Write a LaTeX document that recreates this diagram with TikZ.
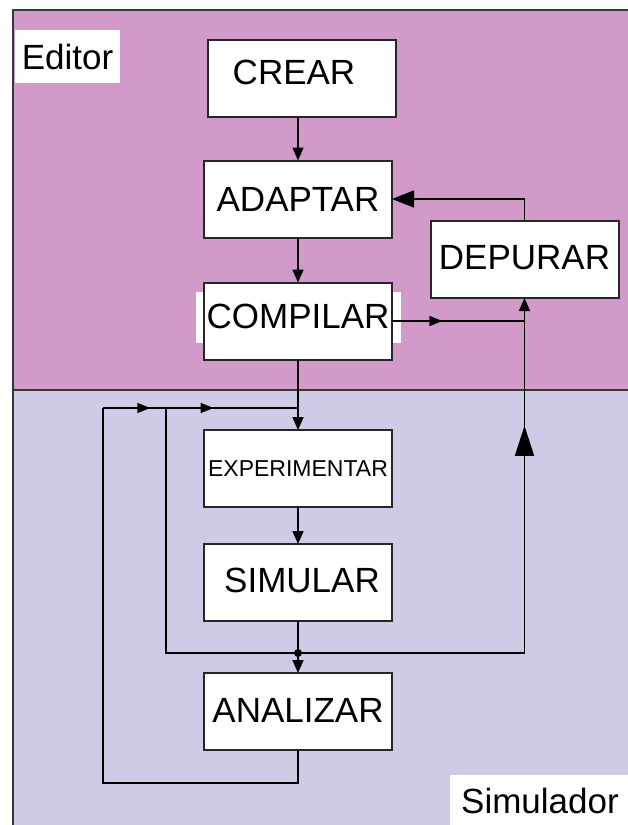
\documentclass[tikz,border=0pt]{standalone}
\usepackage{fontspec}
\setmainfont{Liberation Sans}
\usetikzlibrary{arrows.meta,decorations.markings}
\definecolor{edpink}{RGB}{209,154,200}
\definecolor{simlav}{RGB}{207,203,230}
\definecolor{framegray}{RGB}{55,55,55}
\begin{document}
\begin{tikzpicture}[x=1pt,y=-1pt,
  box/.style={draw=black!85, line width=2pt, fill=white, minimum width=188pt, minimum height=77pt,
    inner sep=0pt, outer sep=0pt, font=\fontsize{35}{40}\selectfont},
  lbl/.style={fill=white, inner sep=0pt, font=\fontsize{35}{40}\selectfont},
  conn/.style={line width=1.7pt, draw=black},
  smalltip/.style={-{Triangle[length=13pt,width=11pt]}},
  bigtip/.style={-{Triangle[length=22pt,width=17pt]}},
  midtip/.style={postaction={decorate}, decoration={markings,
    mark=at position #1 with {\arrow{Triangle[length=13pt,width=10pt]}}}},
  midbig/.style={postaction={decorate}, decoration={markings,
    mark=at position #1 with {\arrow{Triangle[length=30pt,width=19pt]}}}}
]
\useasboundingbox (0,0) rectangle (628,825);
\clip (0,0) rectangle (628,825);
% regions
\fill[edpink] (13,10) rectangle (640,390);
\fill[simlav] (13,390) rectangle (640,830);
\draw[framegray, line width=2.2pt] (640,10) -- (13,10) -- (13,830);
\draw[framegray, line width=2.2pt] (13,390) -- (640,390);
% region labels
\node[lbl, minimum width=105pt, minimum height=53pt] (editor) at (67.5,56.5) {Editor};
\node[lbl, minimum width=180pt, minimum height=52pt] (simulador) at (540,801) {Simulador};
% boxes
\node[box] (crear) at (302,78.5) {\kern-16pt\raisebox{12pt}{CREAR}};
\node[box] (adaptar) at (298,199) {ADAPTAR};
\fill[white] (196,292) rectangle (401,343);
\node[box] (compilar) at (298,321) {\raisebox{10pt}{COMPILAR}};
\node[box] (depurar) at (524.5,259.5) {\raisebox{4pt}{DEPURAR}};
\node[box, font=\fontsize{23}{26}\selectfont] (exper) at (298,468.5) {EXPERIMENTAR};
\node[box] (simular) at (298,582.5) {\kern8pt\raisebox{4pt}{SIMULAR}};
\node[box] (analizar) at (298,711.5) {\raisebox{3pt}{ANALIZAR}};
% helper coordinates
\coordinate (top) at (298,408);
\coordinate (jn) at (298,653);
\coordinate (o2) at (103,783);
\coordinate (o3) at (103,408);
\coordinate (i2) at (166,408);
\coordinate (r1) at (depurar.south |- jn);
\coordinate (cm) at (depurar.south |- compilar.east);
% main column
\draw[conn, smalltip] (crear.south -| adaptar.north) -- (adaptar.north);
\draw[conn, smalltip] (adaptar.south) -- (compilar.north);
\draw[conn, smalltip] (compilar.south) -- (exper.north);
\draw[conn, smalltip] (exper.south) -- (simular.north);
\draw[conn, smalltip] (simular.south) -- (analizar.north);
\fill (jn) circle (4pt);
% outer loop
\draw[conn] (analizar.south) |- (o2) -- (o3);
\draw[conn, midtip=0.75] (o3) -- (i2);
% inner loop
\draw[conn] (jn) -| (i2);
\draw[conn, midtip=0.36] (i2) -- (top);
% to depurar
\draw[conn] (jn) -- (r1);
\draw[conn, smalltip, midbig=0.64] (r1) -- (depurar.south);
\draw[conn, midtip=0.38] (compilar.east) -- (cm);
% depurar to adaptar
\draw[conn, bigtip] (depurar.north) |- (adaptar.east);
\end{tikzpicture}
\end{document}
